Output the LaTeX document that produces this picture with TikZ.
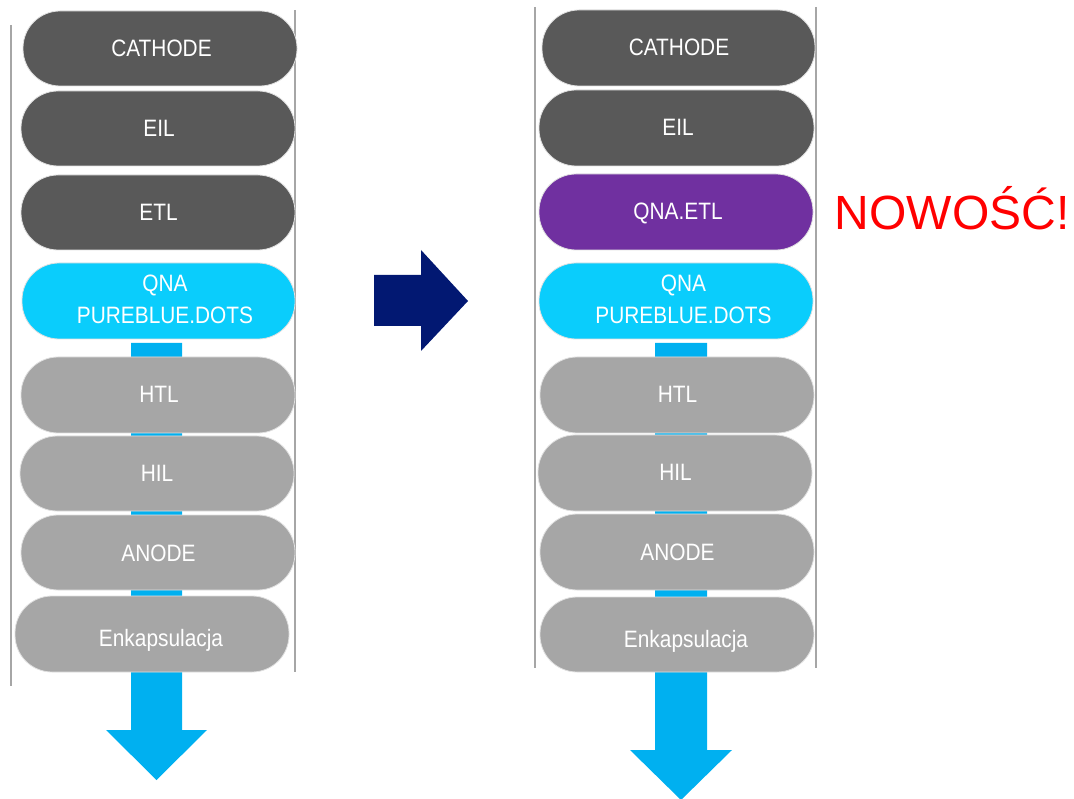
\documentclass[tikz,border=0pt]{standalone}
\usepackage{fontspec}
\setmainfont{Liberation Sans}
\newfontfamily\lblfont[FakeStretch=0.88]{Liberation Sans}
\definecolor{darkpill}{HTML}{595959}
\definecolor{lightpill}{HTML}{A6A6A6}
\definecolor{cyanpill}{RGB}{10,205,252}
\definecolor{purplepill}{HTML}{7030A0}
\definecolor{flowblue}{HTML}{00B0F0}
\definecolor{navyarrow}{RGB}{2,24,114}
\definecolor{railgray}{HTML}{A6A6A6}
\definecolor{nowred}{HTML}{FF0000}
\tikzset{
  rail/.style={draw=railgray, line width=2pt},
  pill/.style={draw=white!88!black, line width=0.8pt, rounded corners=37pt},
  darkp/.style={pill, fill=darkpill},
  lightp/.style={pill, fill=lightpill},
  cyanp/.style={pill, fill=cyanpill},
  purplep/.style={pill, fill=purplepill},
  lbl/.style={anchor=base, inner sep=0pt, text=white, font=\lblfont\fontsize{23.7}{28}\selectfont},
  flow/.style={fill=flowblue, draw=none},
}
\newcommand{\pillbox}[6]{% style, name, x1, y1, x2, y2
  \path[#1] (#3,#4) rectangle (#5,#6);
  \coordinate (#2) at ({(#3+#5)/2},{(#4+#6)/2});
}
\begin{document}
\begin{tikzpicture}[x=1pt,y=-1pt]
\useasboundingbox (0,0) rectangle (1074,799);

% rails
\coordinate (LrailAt) at (11,25);   \coordinate (LrailAb) at (11,686);
\coordinate (LrailBt) at (295,10);  \coordinate (LrailBb) at (295,672);
\coordinate (RrailAt) at (535,7);   \coordinate (RrailAb) at (535,668);
\coordinate (RrailBt) at (816,7);   \coordinate (RrailBb) at (816,668);
\draw[rail] (LrailAt) -- (LrailAb);
\draw[rail] (LrailBt) -- (LrailBb);
\draw[rail] (RrailAt) -- (RrailAb);
\draw[rail] (RrailBt) -- (RrailBb);

% blue flow arrows (behind the pills)
\fill[flow] (131,343) -- (182,343) -- (182,730) -- (207,730) -- (156.5,780)
  -- (106,730) -- (131,730) -- cycle;
\fill[flow] (655,343) -- (707,343) -- (707,750) -- (732,750) -- (681,800)
  -- (630,750) -- (655,750) -- cycle;

% middle arrow
\fill[navyarrow] (374,275) -- (421,275) -- (421,250) -- (468,301)
  -- (421,351) -- (421,326) -- (374,326) -- cycle;

% left stack
\pillbox{darkp}{L1}{23}{11}{297}{86}
\pillbox{darkp}{L2}{21}{91}{295}{166}
\pillbox{darkp}{L3}{21}{175}{295}{250}
\pillbox{cyanp}{L4}{22}{263}{295}{339}
\pillbox{lightp}{L5}{21}{357}{295}{433}
\pillbox{lightp}{L6}{20}{436}{294}{511}
\pillbox{lightp}{L7}{21}{515}{295}{590}
\pillbox{lightp}{L8}{15}{596}{289}{672}

\node[lbl] (L1t) at (161.5,56.5) {CATHODE};
\node[lbl] (L2t) at (159,136.5) {EIL};
\node[lbl] (L3t) at (158.5,220.5) {ETL};
\node[lbl] (L4t) at (165,292) {QNA};
\node[lbl] (L4u) at (165,324) {PUREBLUE.DOTS};
\node[lbl] (L5t) at (159,403) {HTL};
\node[lbl] (L6t) at (157,481.5) {HIL};
\node[lbl] (L7t) at (158.5,561) {ANODE};
\node[lbl] (L8t) at (161,646.5) {Enkapsulacja};

% right stack
\pillbox{darkp}{R1}{542}{10}{815}{86}
\pillbox{darkp}{R2}{539}{90}{814}{166}
\pillbox{purplep}{R3}{539}{174}{813}{250}
\pillbox{cyanp}{R4}{539}{263}{813}{339}
\pillbox{lightp}{R5}{540}{357}{814}{433}
\pillbox{lightp}{R6}{538}{435}{812}{511}
\pillbox{lightp}{R7}{540}{514}{814}{590}
\pillbox{lightp}{R8}{540}{597}{814}{672}

\node[lbl] (R1t) at (679,56) {CATHODE};
\node[lbl] (R2t) at (678,136) {EIL};
\node[lbl] (R3t) at (678,220) {QNA.ETL};
\node[lbl] (R4t) at (683.5,292) {QNA};
\node[lbl] (R4u) at (683.5,324) {PUREBLUE.DOTS};
\node[lbl] (R5t) at (677.5,403) {HTL};
\node[lbl] (R6t) at (675.5,481) {HIL};
\node[lbl] (R7t) at (677.5,560) {ANODE};
\node[lbl] (R8t) at (686,647) {Enkapsulacja};

% new label
\node[anchor=base west, inner sep=0pt, text=nowred, font=\fontsize{48}{56}\selectfont]
  (new) at (834.5,230) {NOWOŚĆ!};
\end{tikzpicture}
\end{document}
